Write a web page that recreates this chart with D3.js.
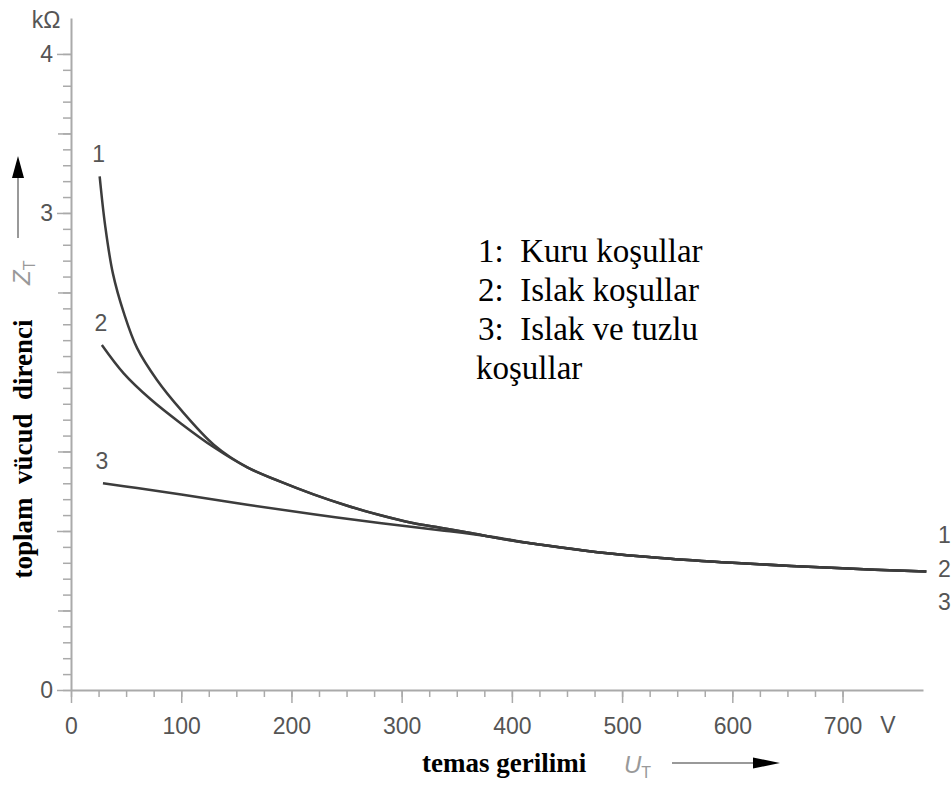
<!DOCTYPE html>
<html>
<head>
<meta charset="utf-8">
<script src="https://cdn.jsdelivr.net/npm/d3@7"></script>
<style>
body { margin: 0; background: #fff; }
svg { display: block; }
</style>
</head>
<body>
<svg id="chart"></svg>
<script>

// curve 1: dry, curve 2: wet, curve 3: wet + salty  (U_T in V, Z_T in kOhm)
var voltsDry = [26, 31, 38, 48, 60, 78, 100, 130, 160, 190, 220, 250, 280, 310, 335, 360, 400, 420, 480, 535, 600, 700, 776]
var zDry = [3.23, 2.92, 2.62, 2.37, 2.15, 1.95, 1.76, 1.54, 1.40, 1.31, 1.23, 1.16, 1.10, 1.05, 1.02, 0.99, 0.94, 0.92, 0.865, 0.83, 0.80, 0.765, 0.745]

var voltsWet = [28, 48, 72, 100, 130, 160, 190, 220, 250, 280, 310, 335, 360, 400, 420, 480, 535, 600, 700, 776]
var zWet = [2.17, 1.99, 1.83, 1.675, 1.525, 1.40, 1.31, 1.23, 1.16, 1.10, 1.05, 1.02, 0.99, 0.94, 0.92, 0.865, 0.83, 0.80, 0.765, 0.745]

var voltsSalt = [29, 60, 100, 160, 220, 280, 335, 380, 420, 480, 535, 600, 700, 776]
var zSalt = [1.30, 1.27, 1.23, 1.165, 1.105, 1.05, 1.005, 0.965, 0.92, 0.865, 0.83, 0.80, 0.765, 0.745]

var curveNames = ["1", "2", "3"]
var legendLines = ["1:  Kuru koşullar", "2:  Islak koşullar", "3:  Islak ve tuzlu", "koşullar"]

var xMajor = [0, 100, 200, 300, 400, 500, 600, 700]
var xMinor = d3.range(0, 701, 25)
var yMajor = [0, 1, 2, 3, 4]
var yHalf = [0.5, 1.5, 2.5, 3.5]
var yMinor = d3.range(0, 4.01, 0.1)
var yLabels = [0, 3, 4]

var width = 952
var height = 786
var axisColor = "#aaa"
var textGray = "#555"
var lineColor = "#3c3c3c"

var svg = d3.select("#chart")
    .attr("width", width)
    .attr("height", height)

var xScale = d3.scaleLinear()
    .domain([0, 773])
    .range([71, 923])

var yScale = d3.scaleLinear()
    .domain([0, 4.226])
    .range([690, 18])

// x axis: minor ticks then major ticks with labels
svg.append("g")
    .attr("transform", "translate(0," + yScale(0) + ")")
    .call(d3.axisBottom(xScale).tickValues(xMinor).tickSize(7).tickSizeOuter(0).tickFormat(""))
    .call(g => g.select(".domain").remove())

svg.append("g")
    .attr("class", "x-axis")
    .attr("transform", "translate(0," + yScale(0) + ")")
    .call(d3.axisBottom(xScale).tickValues(xMajor).tickSize(13).tickSizeOuter(0).tickPadding(15))

// y axis
svg.append("g")
    .attr("transform", "translate(" + xScale(0) + ",0)")
    .call(d3.axisLeft(yScale).tickValues(yMinor).tickSize(8).tickSizeOuter(0).tickFormat(""))
    .call(g => g.select(".domain").remove())

svg.append("g")
    .attr("transform", "translate(" + xScale(0) + ",0)")
    .call(d3.axisLeft(yScale).tickValues(yHalf).tickSize(13).tickSizeOuter(0).tickFormat(""))
    .call(g => g.select(".domain").remove())

svg.append("g")
    .attr("class", "y-axis")
    .attr("transform", "translate(" + xScale(0) + ",0)")
    .call(d3.axisLeft(yScale).tickValues(yMajor).tickSize(14).tickSizeOuter(0).tickPadding(4)
        .tickFormat(d => yLabels.indexOf(d) >= 0 ? d : ""))

svg.selectAll(".domain")
    .attr("stroke", axisColor)
    .attr("stroke-width", 2)
svg.selectAll(".tick line")
    .attr("stroke", axisColor)
    .attr("stroke-width", 1.5)
svg.selectAll(".tick text")
    .attr("fill", textGray)
    .style("font-family", "Liberation Sans, Arial, sans-serif")
    .style("font-size", "23px")

// units
svg.append("text")
    .attr("x", 46)
    .attr("y", 28)
    .attr("text-anchor", "middle")
    .attr("fill", textGray)
    .style("font-family", "Liberation Sans, Arial, sans-serif")
    .style("font-size", "23px")
    .text("kΩ")

svg.append("text")
    .attr("x", 888)
    .attr("y", 733)
    .attr("text-anchor", "middle")
    .attr("fill", textGray)
    .style("font-family", "Liberation Sans, Arial, sans-serif")
    .style("font-size", "23px")
    .text("V")

// curves
var series = [
    { name: curveNames[0], volts: voltsDry, z: zDry },
    { name: curveNames[1], volts: voltsWet, z: zWet },
    { name: curveNames[2], volts: voltsSalt, z: zSalt },
]

var line = d3.line()
    .x(d => xScale(d[0]))
    .y(d => yScale(d[1]))
    .curve(d3.curveCatmullRom.alpha(0.5))

svg.append("g")
    .selectAll("path")
    .data(series)
    .enter()
    .append("path")
    .attr("d", d => line(d.volts.map((v, i) => [v, d.z[i]])))
    .attr("fill", "none")
    .attr("stroke", lineColor)
    .attr("stroke-width", 2.5)

// numbers at start of curves
svg.append("g")
    .selectAll("text")
    .data(series)
    .enter()
    .append("text")
    .attr("x", d => xScale(d.volts[0]) - 1)
    .attr("y", d => yScale(d.z[0]) - 14)
    .attr("text-anchor", "middle")
    .attr("fill", textGray)
    .style("font-family", "Liberation Sans, Arial, sans-serif")
    .style("font-size", "23px")
    .text(d => d.name)

// numbers at the right end
svg.append("g")
    .selectAll("text")
    .data(series)
    .enter()
    .append("text")
    .attr("x", 938)
    .attr("y", (d, i) => 543 + i * 33.5)
    .attr("fill", textGray)
    .style("font-family", "Liberation Sans, Arial, sans-serif")
    .style("font-size", "23px")
    .text(d => d.name)

// legend
svg.append("g")
    .selectAll("text")
    .data(legendLines)
    .enter()
    .append("text")
    .attr("x", (d, i) => i == 3 ? 476 : 478)
    .attr("y", (d, i) => 262 + i * 39)
    .attr("fill", "#000")
    .style("white-space", "pre")
    .style("font-family", "Liberation Serif, Times New Roman, serif")
    .style("font-size", "33px")
    .text(d => d)

// axis titles
svg.append("text")
    .attr("transform", "translate(32,449) rotate(-90)")
    .attr("text-anchor", "middle")
    .attr("fill", "#000")
    .style("white-space", "pre")
    .style("font-family", "Liberation Serif, Times New Roman, serif")
    .style("font-weight", "bold")
    .style("font-size", "27px")
    .text("toplam  vücud  direnci")

svg.append("text")
    .attr("x", 422)
    .attr("y", 772)
    .attr("fill", "#000")
    .style("font-family", "Liberation Serif, Times New Roman, serif")
    .style("font-weight", "bold")
    .style("font-size", "27px")
    .text("temas gerilimi")

// Z_T with arrow
var zt = svg.append("text")
    .attr("transform", "translate(30,285) rotate(-90)")
    .attr("fill", "#999")
    .style("font-family", "Liberation Sans, Arial, sans-serif")
    .style("font-size", "24px")
zt.append("tspan").style("font-style", "italic").text("Z")
zt.append("tspan").attr("dy", 5).style("font-size", "16px").text("T")

svg.append("line")
    .attr("x1", 18).attr("y1", 238)
    .attr("x2", 18).attr("y2", 175)
    .attr("stroke", "#999")
    .attr("stroke-width", 2)
svg.append("path")
    .attr("d", "M18,156 L12,178 L24,178 Z")
    .attr("fill", "#000")

// U_T with arrow
var ut = svg.append("text")
    .attr("x", 624)
    .attr("y", 773)
    .attr("fill", "#999")
    .style("font-family", "Liberation Sans, Arial, sans-serif")
    .style("font-size", "24px")
ut.append("tspan").style("font-style", "italic").text("U")
ut.append("tspan").attr("dy", 5).style("font-size", "16px").text("T")

svg.append("line")
    .attr("x1", 672).attr("y1", 763)
    .attr("x2", 756).attr("y2", 763)
    .attr("stroke", "#999")
    .attr("stroke-width", 2)
svg.append("path")
    .attr("d", "M780,763 L753,757.5 L753,768.5 Z")
    .attr("fill", "#000")

</script>
</body>
</html>
